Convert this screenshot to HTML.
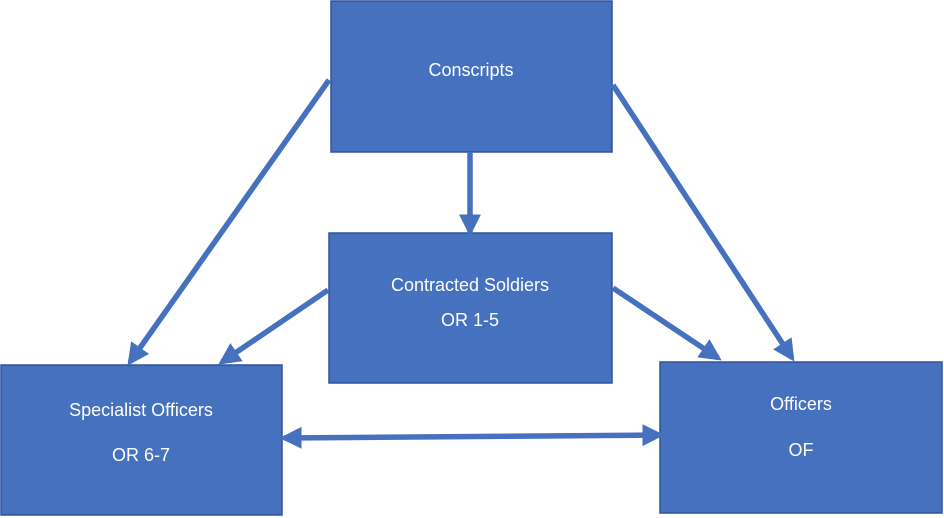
<!DOCTYPE html>
<html><head><style>
body{margin:0;background:#fff;}
svg{display:block}
text{font-family:"Liberation Sans",sans-serif;font-size:18px;fill:#fff;text-anchor:middle}
</style></head><body>
<svg width="944" height="518" viewBox="0 0 944 518">
<defs>
<marker id="a" markerWidth="4" markerHeight="4" refX="3.2" refY="2" orient="auto" markerUnits="strokeWidth">
<path d="M0,0 L4,2 L0,4 Z" fill="#4571BE"/>
</marker>
<marker id="b" markerWidth="4" markerHeight="4" refX="0.8" refY="2" orient="auto" markerUnits="strokeWidth">
<path d="M4,0 L0,2 L4,4 Z" fill="#4571BE"/>
</marker>
</defs>
<g fill="#4571BE" stroke="#30539A" stroke-width="1.5">
<rect x="331" y="1" width="281" height="151"/>
<rect x="329" y="233" width="283" height="150"/>
<rect x="1" y="365" width="281" height="150"/>
<rect x="660" y="362" width="282" height="151"/>
</g>
<g stroke="#4571BE" stroke-width="5.5" fill="none">
<line x1="329" y1="80" x2="130" y2="362" marker-end="url(#a)"/>
<line x1="470" y1="152" x2="470" y2="232" marker-end="url(#a)"/>
<line x1="613" y1="85" x2="792" y2="358" marker-end="url(#a)"/>
<line x1="328" y1="290" x2="222" y2="362" marker-end="url(#a)"/>
<line x1="613" y1="288" x2="718" y2="358" marker-end="url(#a)"/>
<line x1="284" y1="438" x2="660" y2="435" marker-start="url(#b)" marker-end="url(#a)"/>
</g>
<text x="471" y="76">Conscripts</text>
<text x="470" y="291">Contracted Soldiers</text>
<text x="470" y="326">OR 1-5</text>
<text x="141" y="416">Specialist Officers</text>
<text x="141" y="461">OR 6-7</text>
<text x="801" y="410">Officers</text>
<text x="801" y="456">OF</text>
</svg>
</body></html>
